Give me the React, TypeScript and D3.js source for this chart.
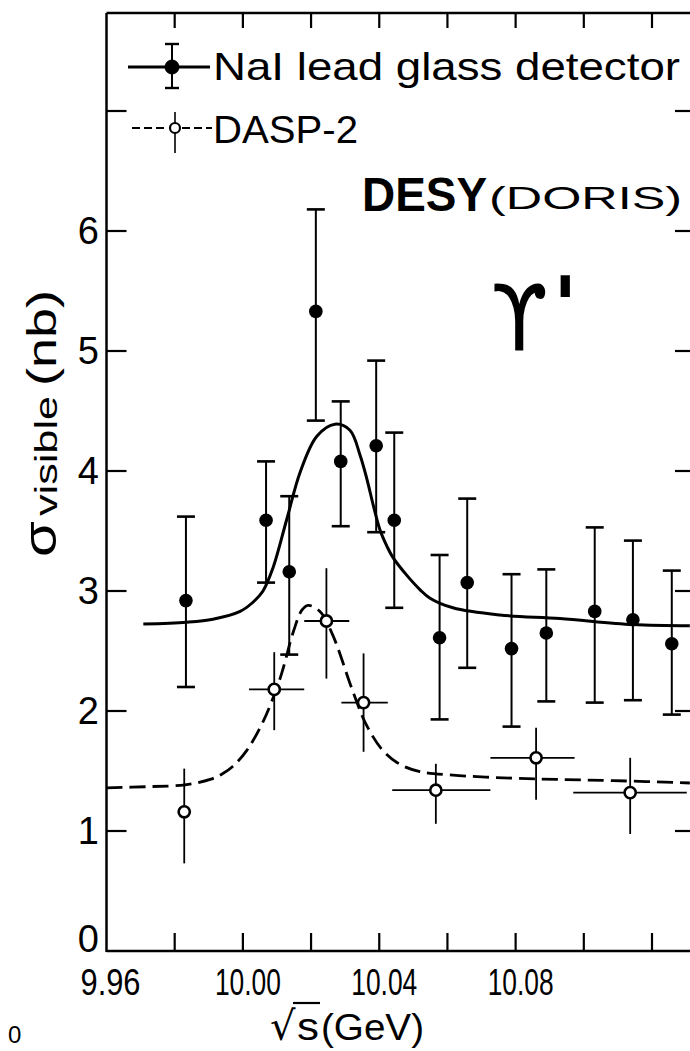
import React from 'react';
import * as d3 from 'd3';

// ---- axis ticks ----
const xTicks = [9.96, 9.98, 10.0, 10.02, 10.04, 10.06, 10.08, 10.1, 10.12];
const xTickLabels = ['9.96', '10.00', '10.04', '10.08'];
const yTicks = [1, 2, 3, 4, 5, 6, 7];
const yTickLabels = ['0', '1', '2', '3', '4', '5', '6'];

// ---- NaI lead glass detector (filled) ----
const naiE = [9.9833, 10.0068, 10.0136, 10.0214, 10.0287, 10.0391, 10.0444, 10.0577, 10.0658, 10.0788, 10.089, 10.1032, 10.1144, 10.1258];
const naiSigma = [2.92, 3.59, 3.16, 5.33, 4.08, 4.21, 3.59, 2.61, 3.07, 2.52, 2.65, 2.83, 2.76, 2.56];
const naiHi = [3.62, 4.08, 3.79, 6.18, 4.58, 4.92, 4.32, 3.3, 3.77, 3.14, 3.18, 3.53, 3.42, 3.17];
const naiLo = [2.2, 3.07, 2.47, 4.42, 3.54, 3.49, 2.86, 1.93, 2.36, 1.87, 2.08, 2.07, 2.09, 1.97];

// ---- DASP-2 (open) ----
const daspE = [9.9828, 10.0092, 10.0245, 10.0354, 10.0566, 10.086, 10.1136];
const daspSigma = [1.16, 2.18, 2.75, 2.07, 1.34, 1.61, 1.32];
const daspHi = [1.52, 2.49, 3.19, 2.48, 1.56, 1.86, 1.61];
const daspLo = [0.73, 1.84, 2.27, 1.66, 1.06, 1.26, 0.975];
const daspELo = [9.9828, 10.0018, 10.018, 10.0289, 10.0438, 10.0726, 10.0969];
const daspEHi = [9.9828, 10.018, 10.0312, 10.0425, 10.0726, 10.0973, 10.1302];

// ---- fit curves ----
const naiFitE = [9.9708, 9.9835, 9.9912, 9.9992, 10.0027, 10.0059, 10.0088, 10.0129, 10.0168, 10.0217, 10.027, 10.0314, 10.0344, 10.0364, 10.0382, 10.0402, 10.0423, 10.044, 10.0481, 10.052, 10.0549, 10.0616, 10.0754, 10.093, 10.1144, 10.1311];
const naiFitS = [2.725, 2.74, 2.765, 2.83, 2.9, 3.0, 3.19, 3.6, 3.99, 4.29, 4.39, 4.34, 4.13, 3.93, 3.72, 3.51, 3.37, 3.28, 3.13, 3.01, 2.94, 2.86, 2.8, 2.77, 2.72, 2.71];
const daspFitE = [9.96, 9.9728, 9.983, 9.9904, 9.9939, 9.9971, 10.0011, 10.0059, 10.0109, 10.0148, 10.0173, 10.0191, 10.0226, 10.0264, 10.0323, 10.0363, 10.0411, 10.0461, 10.0519, 10.0616, 10.0792, 10.0921, 10.1086, 10.1311];
const daspFitS = [1.36, 1.37, 1.385, 1.43, 1.475, 1.54, 1.67, 1.91, 2.27, 2.66, 2.84, 2.88, 2.83, 2.63, 2.16, 1.88, 1.67, 1.555, 1.495, 1.465, 1.44, 1.43, 1.42, 1.4];

const W = 690;
const H = 1051;
const FONT = "'Liberation Sans', Arial, sans-serif";

export default function App() {
  const x = d3.scaleLinear().domain([9.96, 10.12]).range([106.5, 652]);
  const y = d3.scaleLinear().domain([0, 7]).range([951, 111]);
  const left = x(9.96);
  const right = 693;
  const top = 13;
  const bottom = y(0);

  const line = d3
    .line<[number, number]>()
    .x((d) => x(d[0]))
    .y((d) => y(d[1]))
    .curve(d3.curveCatmullRom.alpha(0.5));

  const naiFit = line(naiFitE.map((e, i) => [e, naiFitS[i]]) as [number, number][]) || '';
  const daspFit = line(daspFitE.map((e, i) => [e, daspFitS[i]]) as [number, number][]) || '';

  const capW = 9;

  return (
    <div style={{ position: 'absolute', left: 0, top: 0 }}>
      <svg width={W} height={H} viewBox={`0 0 ${W} ${H}`} style={{ display: 'block', background: '#fff' }}>
        <rect x={0} y={0} width={W} height={H} fill="#fff" />
        {/* frame */}
        <g stroke="#000" strokeWidth={2.5} fill="none">
          <line x1={left} y1={top} x2={left} y2={bottom + 1} />
          <line x1={left} y1={bottom} x2={right} y2={bottom} />
          <line x1={left} y1={top} x2={right} y2={top} />
          <line x1={right} y1={top} x2={right} y2={bottom} />
        </g>
        {/* ticks */}
        <g stroke="#000" strokeWidth={2.2}>
          {xTicks.slice(1).map((t) => (
            <g key={'xt' + t}>
              <line x1={x(t)} x2={x(t)} y1={bottom} y2={bottom - 18} />
              <line x1={x(t)} x2={x(t)} y1={top} y2={top + 15} />
            </g>
          ))}
          {yTicks.map((t) => (
            <g key={'yt' + t}>
              <line x1={left} x2={left + 20} y1={y(t)} y2={y(t)} />
              <line x1={right} x2={right - 18} y1={y(t)} y2={y(t)} />
            </g>
          ))}
        </g>
        {/* tick labels */}
        <g fontFamily={FONT} fontSize={37} fill="#000">
          {xTickLabels.map((s) => (
            <text
              key={'xl' + s}
              x={x(+s) + (s === '9.96' ? 4 : 5)}
              y={995}
              textAnchor="middle"
              textLength={s.length === 4 ? 60 : 66}
              lengthAdjust="spacingAndGlyphs"
            >
              {s}
            </text>
          ))}
          {yTickLabels.map((s) => (
            <text key={'yl' + s} x={99} y={Math.min(y(+s), bottom - 12) + 13} textAnchor="end" fontSize={38}>
              {s}
            </text>
          ))}
        </g>

        {/* fit curves */}
        <path d={naiFit} fill="none" stroke="#000" strokeWidth={3} />
        <path d={daspFit} fill="none" stroke="#000" strokeWidth={2.8} strokeDasharray="16,7" />

        {/* NaI error bars + markers */}
        <g stroke="#000" strokeWidth={2}>
          {naiE.map((e, i) => (
            <g key={'ne' + i}>
              <line x1={x(e)} x2={x(e)} y1={y(naiHi[i])} y2={y(naiLo[i])} />
              <line x1={x(e) - capW} x2={x(e) + capW} y1={y(naiHi[i])} y2={y(naiHi[i])} strokeWidth={2.6} />
              <line x1={x(e) - capW} x2={x(e) + capW} y1={y(naiLo[i])} y2={y(naiLo[i])} strokeWidth={2.6} />
            </g>
          ))}
        </g>
        <g fill="#000">
          {naiE.map((e, i) => (
            <circle key={'nm' + i} cx={x(e)} cy={y(naiSigma[i])} r={6.8} />
          ))}
        </g>

        {/* DASP-2 error bars + markers */}
        <g stroke="#000" strokeWidth={1.8}>
          {daspE.map((e, i) => (
            <g key={'de' + i}>
              <line x1={x(e)} x2={x(e)} y1={y(daspHi[i])} y2={y(daspLo[i])} />
              {daspEHi[i] > daspELo[i] && (
                <line x1={x(daspELo[i])} x2={x(daspEHi[i])} y1={y(daspSigma[i])} y2={y(daspSigma[i])} />
              )}
            </g>
          ))}
        </g>
        <g fill="#fff" stroke="#000" strokeWidth={2.6}>
          {daspE.map((e, i) => (
            <circle key={'dm' + i} cx={x(e)} cy={y(daspSigma[i])} r={5.6} />
          ))}
        </g>

        {/* legend */}
        <g stroke="#000">
          <line x1={128} x2={210} y1={67} y2={67} strokeWidth={3} />
          <line x1={172} x2={172} y1={44} y2={88} strokeWidth={2} />
          <line x1={165} x2={179} y1={44} y2={44} strokeWidth={2.4} />
          <line x1={165} x2={179} y1={88} y2={88} strokeWidth={2.4} />
          <circle cx={172} cy={67} r={7} fill="#000" />
          <line x1={132} x2={168} y1={128} y2={128} strokeWidth={2.2} strokeDasharray="8,4" />
          <line x1={182} x2={212} y1={128} y2={128} strokeWidth={2.2} strokeDasharray="8,4" />
          <line x1={175} x2={175} y1={112} y2={153} strokeWidth={1.6} />
          <circle cx={175} cy={128} r={5} fill="#fff" strokeWidth={2.2} />
        </g>
        <g fontFamily={FONT} fill="#000">
          <text x={213} y={80} fontSize={39} textLength={467} lengthAdjust="spacingAndGlyphs">
            NaI lead glass detector
          </text>
          <text x={213} y={143} fontSize={39} textLength={145} lengthAdjust="spacingAndGlyphs">
            DASP-2
          </text>
          <text x={362} y={211} fontSize={48} fontWeight="bold" textLength={125} lengthAdjust="spacingAndGlyphs">
            DESY
          </text>
          <text x={489} y={209} fontSize={31} textLength={193} lengthAdjust="spacingAndGlyphs">
            (DORIS)
          </text>
          <text x={491} y={350} fontFamily="'DejaVu Sans', sans-serif" fontSize={90} textLength={57} lengthAdjust="spacingAndGlyphs">
            ϒ
          </text>
          <text x={553} y={334} fontFamily="'DejaVu Sans', sans-serif" fontSize={80} fontWeight="bold">
            '
          </text>
        </g>

        {/* x-axis label */}
        <g fontFamily={FONT} fill="#000">
          <text x={270} y={1040} fontSize={40} fontFamily="'DejaVu Sans', sans-serif">
            √
          </text>
          <line x1={293} x2={320} y1={1003} y2={1003} stroke="#000" strokeWidth={2.2} />
          <text x={297} y={1040} fontSize={38} textLength={22} lengthAdjust="spacingAndGlyphs">
            s
          </text>
          <text x={321} y={1040} fontSize={37} textLength={103} lengthAdjust="spacingAndGlyphs">
            (GeV)
          </text>
          <text x={8} y={1043} fontSize={24}>
            0
          </text>
        </g>

        {/* y-axis label */}
        <g fontFamily={FONT} fill="#000">
          <g transform="translate(56,557) rotate(-90)">
            <text x={0} y={0} fontSize={46} textLength={36} lengthAdjust="spacingAndGlyphs">
              σ
            </text>
          </g>
          <g transform="translate(57,516) rotate(-90)">
            <text x={0} y={0} fontSize={31} textLength={120} lengthAdjust="spacingAndGlyphs">
              visible
            </text>
          </g>
          <g transform="translate(56,386) rotate(-90)">
            <text x={0} y={0} fontSize={40} textLength={96} lengthAdjust="spacingAndGlyphs">
              (nb)
            </text>
          </g>
        </g>
      </svg>
    </div>
  );
}
